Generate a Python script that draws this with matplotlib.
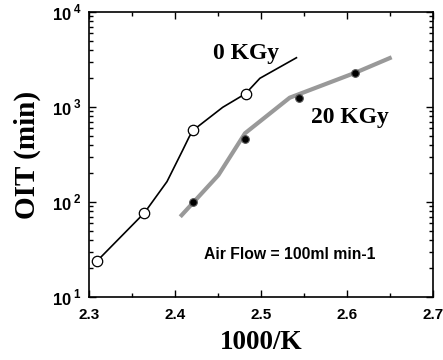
import matplotlib
matplotlib.use('Agg')
import matplotlib.pyplot as plt
from matplotlib.ticker import FixedLocator, LogLocator, NullFormatter, MultipleLocator

# 0 KGy: measured points (open circles) and the drawn curve
x0_pts = [2.3097, 2.3645, 2.4215, 2.482]
y0_pts = [24.1, 77, 573, 1380]
x0_line = [2.3097, 2.3645, 2.3907, 2.409, 2.4166, 2.4215, 2.4555, 2.482, 2.4987, 2.5412]
y0_line = [24.1, 77, 164, 352, 487, 573, 993, 1380, 2005, 3300]

# 20 KGy: measured points (filled circles) and the grey curve
x20_pts = [2.4215, 2.4817, 2.5442, 2.6098]
y20_pts = [99, 457, 1253, 2297]
x20_line = [2.4061, 2.4505, 2.4814, 2.5334, 2.6098, 2.6519]
y20_line = [70, 192, 529, 1253, 2297, 3337]

plt.rcParams['mathtext.fontset'] = 'custom'
plt.rcParams['mathtext.bf'] = 'Liberation Sans:bold'
plt.rcParams['mathtext.rm'] = 'Liberation Sans:bold'

fig = plt.figure(figsize=(4.43, 3.6), dpi=100)
ax = fig.add_axes([89 / 443, 1 - 297 / 360, (433 - 89) / 443, (297 - 12) / 360])

ax.plot(x20_line, y20_line, color='#999999', lw=3, solid_capstyle='butt', zorder=2)
ax.plot(x0_line, y0_line, color='black', lw=1.2, zorder=3)
ax.plot(x0_pts, y0_pts, 'o', mfc='white', mec='black', ms=7.5, mew=0.9, zorder=4)
ax.plot(x20_pts, y20_pts, 'o', mfc='black', mec='#555555', ms=5.5, mew=0.8, zorder=4)

ax.set_yscale('log')
ax.set_xlim(2.3, 2.7)
ax.set_ylim(10, 1e4)
ax.xaxis.set_major_locator(MultipleLocator(0.1))
ax.xaxis.set_minor_locator(MultipleLocator(0.05))
ax.yaxis.set_major_locator(FixedLocator([10, 100, 1000, 10000]))
ax.yaxis.set_minor_locator(LogLocator(base=10, subs=range(2, 10)))
ax.yaxis.set_minor_formatter(NullFormatter())
ax.set_yticklabels([r'$\mathbf{10}^{\;1}$', r'$\mathbf{10}^{\;2}$',
                    r'$\mathbf{10}^{\;3}$', r'$\mathbf{10}^{\;4}$'])
ax.set_xticks([2.3, 2.4, 2.5, 2.6, 2.7])
ax.set_xticklabels(['2.3', '2.4', '2.5', '2.6', '2.7'])

ax.tick_params(which='both', direction='in', top=True, right=True, width=1)
ax.tick_params(which='major', length=5)
ax.tick_params(which='minor', length=3)
ax.tick_params(axis='x', labelsize=11, pad=8)
ax.tick_params(axis='y', labelsize=12, pad=5)
for lab in ax.get_xticklabels():
    lab.set_fontfamily('Liberation Sans')
    lab.set_fontweight('bold')
for s in ax.spines.values():
    s.set_linewidth(1.2)

ax.set_xlabel('1000/K', fontfamily='Liberation Serif', fontweight='bold', fontsize=19.5, labelpad=6)
ax.set_ylabel('OIT (min)', fontfamily='Liberation Serif', fontweight='bold', fontsize=21, labelpad=8)

ax.text(2.4825, 3700, '0 KGy', fontfamily='Liberation Serif', fontweight='bold', fontsize=17,
        ha='center', va='center')
ax.text(2.603, 770, '20 KGy', fontfamily='Liberation Serif', fontweight='bold', fontsize=17,
        ha='center', va='center')
ax.text(2.5335, 28, 'Air Flow = 100ml min-1', fontfamily='Liberation Sans', fontweight='bold',
        fontsize=11.3, ha='center', va='center')

fig.savefig('out.png', dpi=100)
